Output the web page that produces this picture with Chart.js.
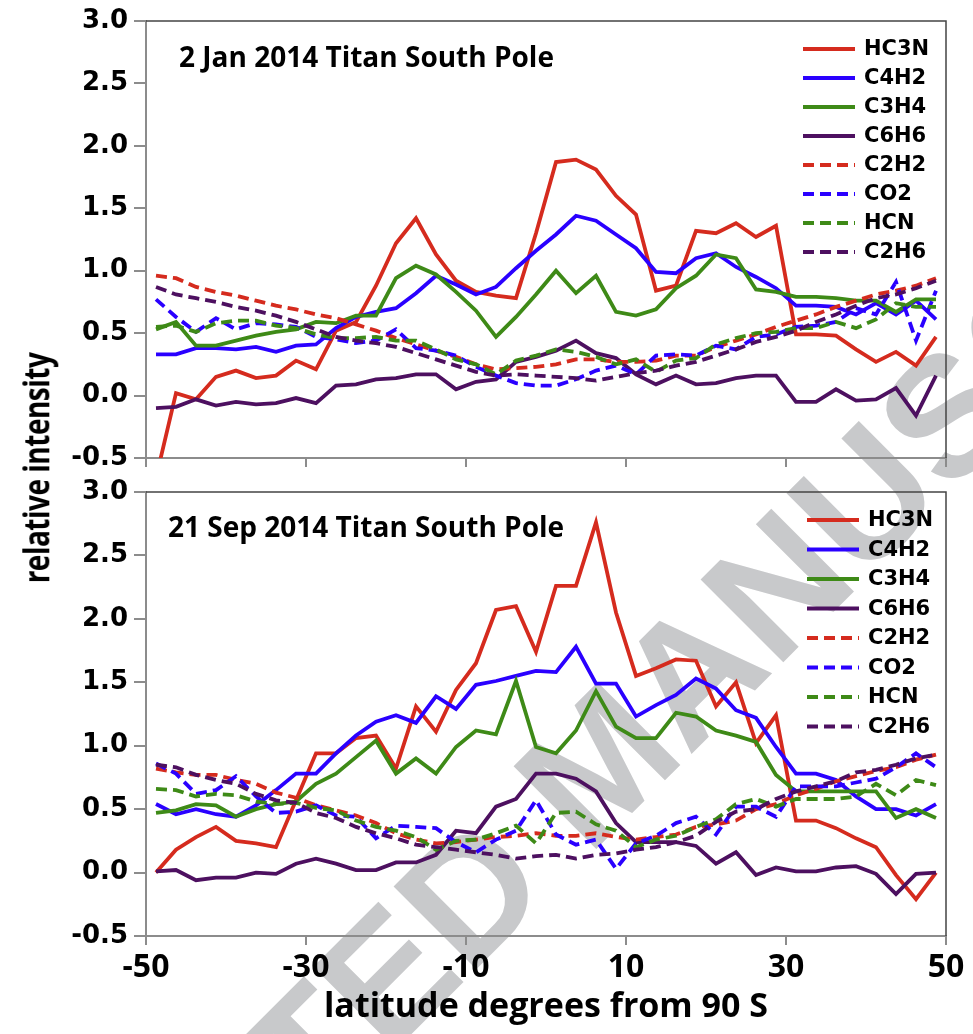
<!DOCTYPE html>
<html>
<head>
<meta charset="utf-8">
<script src="https://cdn.jsdelivr.net/npm/chart.js@4.4.1/dist/chart.umd.min.js"></script>
<style>
  body { margin: 0; background: #fff; width: 973px; height: 1034px; position: relative; overflow: hidden; }
  canvas { position: absolute; left: 0; z-index: 1; }
  #wm { position: absolute; left: 600px; top: 762px; transform: translate(-50%, -50%) rotate(-45deg);
        font: bold 170px 'Liberation Sans', Arial, sans-serif; color: #c8c9cb; white-space: nowrap; z-index: 0; }
  #ytitle { position: absolute; left: -115px; top: 450px; width: 300px; text-align: center;
            font: bold 28px 'Open Sans', sans-serif; line-height: 36px; color: #000; letter-spacing: -0.5px;
            transform: rotate(-90deg) scaleY(1.3); z-index: 2; }
</style>
</head>
<body>
<div id="wm">ACCEPTED MANUSCRIPT</div>
<div id="ytitle">relative intensity</div>
<canvas id="top" width="973" height="470" style="top:0;width:973px;height:470px"></canvas>
<canvas id="bottom" width="973" height="564" style="top:470px;width:973px;height:564px"></canvas>
<script>
// latitude (degrees from 90 S) of each sample
const latitudes = [-48.75, -46.25, -43.75, -41.25, -38.75, -36.25, -33.75, -31.25, -28.75, -26.25,
  -23.75, -21.25, -18.75, -16.25, -13.75, -11.25, -8.75, -6.25, -3.75, -1.25,
  1.25, 3.75, 6.25, 8.75, 11.25, 13.75, 16.25, 18.75, 21.25, 23.75,
  26.25, 28.75, 31.25, 33.75, 36.25, 38.75, 41.25, 43.75, 46.25, 48.75];

const names = ['HC3N', 'C4H2', 'C3H4', 'C6H6', 'C2H2', 'CO2', 'HCN', 'C2H6'];
const colors = ['#d52b1e', '#2a00ff', '#3e8a17', '#4d1060', '#d52b1e', '#2a00ff', '#3e8a17', '#4d1060'];
const dashed = [false, false, false, false, true, true, true, true];
const yTicks = [-0.5, 0, 0.5, 1, 1.5, 2, 2.5, 3];

// 2 Jan 2014
const janHC3N = [-0.66, 0.02, -0.03, 0.15, 0.20, 0.14, 0.16, 0.28, 0.21, 0.52, 0.59, 0.88, 1.22, 1.42, 1.13, 0.92, 0.83, 0.80, 0.78, 1.30, 1.87, 1.89, 1.81, 1.60, 1.45, 0.84, 0.88, 1.32, 1.30, 1.38, 1.27, 1.36, 0.49, 0.49, 0.48, 0.37, 0.27, 0.35, 0.24, 0.47];
const janC4H2 = [0.33, 0.33, 0.38, 0.38, 0.37, 0.39, 0.35, 0.40, 0.41, 0.54, 0.63, 0.67, 0.70, 0.82, 0.96, 0.89, 0.81, 0.87, 1.02, 1.16, 1.29, 1.44, 1.40, 1.29, 1.18, 0.99, 0.98, 1.10, 1.14, 1.03, 0.95, 0.86, 0.72, 0.72, 0.71, 0.65, 0.74, 0.65, 0.76, 0.61];
const janC3H4 = [0.53, 0.59, 0.40, 0.40, 0.44, 0.48, 0.51, 0.53, 0.59, 0.58, 0.64, 0.64, 0.94, 1.04, 0.97, 0.83, 0.68, 0.47, 0.63, 0.81, 1.00, 0.82, 0.96, 0.67, 0.64, 0.69, 0.86, 0.96, 1.13, 1.10, 0.85, 0.83, 0.79, 0.79, 0.78, 0.76, 0.76, 0.67, 0.77, 0.77];
const janC6H6 = [-0.10, -0.09, -0.03, -0.08, -0.05, -0.07, -0.06, -0.02, -0.06, 0.08, 0.09, 0.13, 0.14, 0.17, 0.17, 0.05, 0.11, 0.13, 0.27, 0.31, 0.36, 0.44, 0.34, 0.30, 0.17, 0.09, 0.16, 0.09, 0.10, 0.14, 0.16, 0.16, -0.05, -0.05, 0.05, -0.04, -0.03, 0.06, -0.16, 0.16];
const janC2H2 = [0.96, 0.94, 0.87, 0.83, 0.80, 0.76, 0.72, 0.69, 0.65, 0.62, 0.57, 0.52, 0.46, 0.41, 0.36, 0.31, 0.25, 0.21, 0.22, 0.23, 0.25, 0.29, 0.29, 0.27, 0.27, 0.28, 0.32, 0.32, 0.39, 0.44, 0.49, 0.55, 0.60, 0.65, 0.71, 0.76, 0.81, 0.84, 0.88, 0.94];
const janCO2 = [0.77, 0.63, 0.51, 0.62, 0.53, 0.58, 0.57, 0.55, 0.47, 0.45, 0.42, 0.44, 0.53, 0.38, 0.36, 0.32, 0.23, 0.16, 0.10, 0.08, 0.08, 0.13, 0.20, 0.24, 0.17, 0.32, 0.33, 0.32, 0.40, 0.37, 0.47, 0.49, 0.55, 0.56, 0.59, 0.70, 0.65, 0.91, 0.44, 0.84];
const janHCN = [0.55, 0.56, 0.51, 0.58, 0.60, 0.60, 0.56, 0.54, 0.49, 0.46, 0.46, 0.47, 0.44, 0.44, 0.37, 0.29, 0.25, 0.17, 0.28, 0.32, 0.37, 0.35, 0.31, 0.25, 0.29, 0.19, 0.28, 0.30, 0.41, 0.46, 0.50, 0.51, 0.54, 0.54, 0.59, 0.54, 0.61, 0.74, 0.71, 0.71];
const janC2H6 = [0.87, 0.81, 0.78, 0.75, 0.71, 0.68, 0.64, 0.59, 0.53, 0.47, 0.44, 0.42, 0.39, 0.34, 0.29, 0.24, 0.19, 0.16, 0.17, 0.16, 0.15, 0.14, 0.12, 0.15, 0.18, 0.20, 0.24, 0.27, 0.32, 0.37, 0.43, 0.47, 0.52, 0.59, 0.65, 0.72, 0.78, 0.81, 0.86, 0.92];

// 21 Sep 2014
const sepHC3N = [0.00, 0.18, 0.28, 0.36, 0.25, 0.23, 0.20, 0.57, 0.94, 0.94, 1.06, 1.08, 0.82, 1.31, 1.11, 1.44, 1.65, 2.07, 2.10, 1.74, 2.26, 2.26, 2.76, 2.05, 1.55, 1.61, 1.68, 1.67, 1.31, 1.50, 1.02, 1.24, 0.41, 0.41, 0.35, 0.27, 0.20, -0.02, -0.21, 0.00];
const sepC4H2 = [0.54, 0.46, 0.50, 0.46, 0.44, 0.53, 0.65, 0.78, 0.78, 0.94, 1.08, 1.19, 1.24, 1.18, 1.39, 1.29, 1.48, 1.51, 1.55, 1.59, 1.58, 1.78, 1.49, 1.49, 1.23, 1.32, 1.40, 1.53, 1.45, 1.28, 1.22, 0.99, 0.78, 0.78, 0.73, 0.60, 0.50, 0.50, 0.45, 0.54];
const sepC3H4 = [0.47, 0.49, 0.54, 0.53, 0.44, 0.50, 0.54, 0.56, 0.70, 0.78, 0.91, 1.04, 0.78, 0.90, 0.78, 0.99, 1.12, 1.09, 1.51, 0.99, 0.94, 1.12, 1.43, 1.15, 1.06, 1.06, 1.26, 1.23, 1.12, 1.08, 1.03, 0.77, 0.64, 0.64, 0.64, 0.64, 0.64, 0.43, 0.50, 0.43];
const sepC6H6 = [0.01, 0.02, -0.06, -0.04, -0.04, 0.00, -0.01, 0.07, 0.11, 0.07, 0.02, 0.02, 0.08, 0.08, 0.14, 0.33, 0.31, 0.52, 0.58, 0.78, 0.78, 0.74, 0.64, 0.39, 0.24, 0.24, 0.24, 0.21, 0.07, 0.16, -0.02, 0.04, 0.01, 0.01, 0.04, 0.05, -0.01, -0.17, -0.01, 0.00];
const sepC2H2 = [0.82, 0.79, 0.77, 0.77, 0.73, 0.70, 0.63, 0.59, 0.53, 0.49, 0.45, 0.39, 0.31, 0.26, 0.23, 0.24, 0.26, 0.28, 0.29, 0.31, 0.29, 0.29, 0.31, 0.28, 0.26, 0.28, 0.30, 0.36, 0.38, 0.41, 0.50, 0.54, 0.61, 0.66, 0.72, 0.76, 0.80, 0.83, 0.89, 0.93];
const sepCO2 = [0.86, 0.78, 0.62, 0.65, 0.76, 0.60, 0.47, 0.48, 0.53, 0.45, 0.44, 0.27, 0.37, 0.36, 0.35, 0.24, 0.16, 0.26, 0.33, 0.57, 0.30, 0.22, 0.26, 0.03, 0.23, 0.29, 0.39, 0.44, 0.30, 0.52, 0.52, 0.44, 0.68, 0.68, 0.68, 0.71, 0.74, 0.83, 0.94, 0.83];
const sepHCN = [0.66, 0.65, 0.60, 0.62, 0.61, 0.56, 0.54, 0.55, 0.51, 0.49, 0.41, 0.36, 0.33, 0.28, 0.18, 0.25, 0.26, 0.31, 0.37, 0.23, 0.47, 0.48, 0.38, 0.33, 0.20, 0.26, 0.29, 0.36, 0.42, 0.54, 0.58, 0.52, 0.58, 0.58, 0.58, 0.60, 0.70, 0.61, 0.73, 0.69];
const sepC2H6 = [0.85, 0.83, 0.77, 0.73, 0.70, 0.62, 0.57, 0.55, 0.47, 0.43, 0.36, 0.31, 0.27, 0.22, 0.20, 0.18, 0.16, 0.14, 0.11, 0.13, 0.14, 0.11, 0.14, 0.15, 0.18, 0.20, 0.24, 0.29, 0.40, 0.48, 0.50, 0.58, 0.64, 0.68, 0.72, 0.79, 0.81, 0.85, 0.90, 0.93];

const janSeries = [janHC3N, janC4H2, janC3H4, janC6H6, janC2H2, janCO2, janHCN, janC2H6];
const sepSeries = [sepHC3N, sepC4H2, sepC3H4, sepC6H6, sepC2H2, sepCO2, sepHCN, sepC2H6];

const axisGrey = '#8c8c8c';

// panel title, box border and the legend box in the upper right
const panelPlugin = {
  id: 'panel',
  afterDraw(chart, args, opts) {
    const ctx = chart.ctx;
    const a = chart.chartArea;
    ctx.save();
    ctx.strokeStyle = '#444';
    ctx.lineWidth = 1.5;
    ctx.beginPath();
    ctx.moveTo(a.left, a.top);
    ctx.lineTo(a.right, a.top);
    ctx.lineTo(a.right, a.bottom);
    ctx.stroke();

    ctx.fillStyle = '#000';
    ctx.font = "bold 28px 'Open Sans'";
    ctx.textBaseline = 'alphabetic';
    ctx.fillText(opts.title, opts.titleX, opts.titleY);

    ctx.font = "bold 21px 'DejaVu Sans'";
    ctx.textBaseline = 'middle';
    chart.data.datasets.forEach((ds, i) => {
      const y = opts.legendY + i * opts.rowGap;
      ctx.strokeStyle = ds.borderColor;
      ctx.lineWidth = 4;
      ctx.setLineDash(ds.borderDash);
      ctx.beginPath();
      ctx.moveTo(opts.legendX, y);
      ctx.lineTo(opts.legendX + 52, y);
      ctx.stroke();
      ctx.setLineDash([]);
      ctx.fillText(ds.label, opts.legendX + 61, y + 1);
    });
    ctx.restore();
  }
};

function makeChart(id, series, panel) {
  const datasets = names.map((name, i) => ({
    label: name,
    data: latitudes.map((x, j) => ({ x, y: series[i][j] })),
    borderColor: colors[i],
    borderDash: dashed[i] ? [11, 6] : [],
    borderWidth: 3.8,
    pointRadius: 0,
    tension: 0,
    order: -i
  }));

  return new Chart(document.getElementById(id), {
    type: 'line',
    data: { datasets },
    options: {
      responsive: false,
      animation: false,
      layout: { padding: { top: panel.padTop, right: 27, left: 0, bottom: 0 } },
      plugins: { legend: { display: false }, tooltip: { enabled: false }, panel },
      scales: {
        x: {
          type: 'linear', min: -50, max: 50,
          ticks: { stepSize: 20, display: panel.showX, padding: 4, color: '#000',
                   font: { family: 'Open Sans', weight: 'bold', size: 32 } },
          grid: { drawOnChartArea: false, drawTicks: true, tickLength: 9, color: axisGrey, lineWidth: 2 },
          border: { color: axisGrey, width: 2 },
          title: { display: panel.showX, text: 'latitude degrees from 90 S', color: '#000',
                   font: { family: 'Open Sans', weight: 'bold', size: 34 }, padding: { top: 0, bottom: 6 } },
          afterFit: s => { s.height = panel.xHeight; s.paddingLeft = 0; s.paddingRight = 0; }
        },
        y: {
          min: -0.5, max: 3,
          afterBuildTicks: s => { s.ticks = yTicks.map(v => ({ value: v })); },
          ticks: { padding: 6, color: '#000', callback: v => v.toFixed(1),
                   font: { family: 'DejaVu Sans', weight: 'bold', size: 26 } },
          grid: { drawOnChartArea: false, drawTicks: true, tickLength: 12, color: axisGrey, lineWidth: 2 },
          border: { color: axisGrey, width: 2 },
          afterFit: s => { s.width = 146; s.paddingTop = 0; s.paddingBottom = 0; }
        }
      }
    },
    plugins: [panelPlugin]
  });
}

makeChart('top', janSeries, {
  padTop: 21, xHeight: 12, showX: false,
  title: '2 Jan 2014 Titan South Pole', titleX: 179, titleY: 67,
  legendX: 803, legendY: 49, rowGap: 29
});

makeChart('bottom', sepSeries, {
  padTop: 22, xHeight: 98, showX: true,
  title: '21 Sep 2014 Titan South Pole', titleX: 168, titleY: 67,
  legendX: 807, legendY: 50, rowGap: 29.5
});
</script>
</body>
</html>
